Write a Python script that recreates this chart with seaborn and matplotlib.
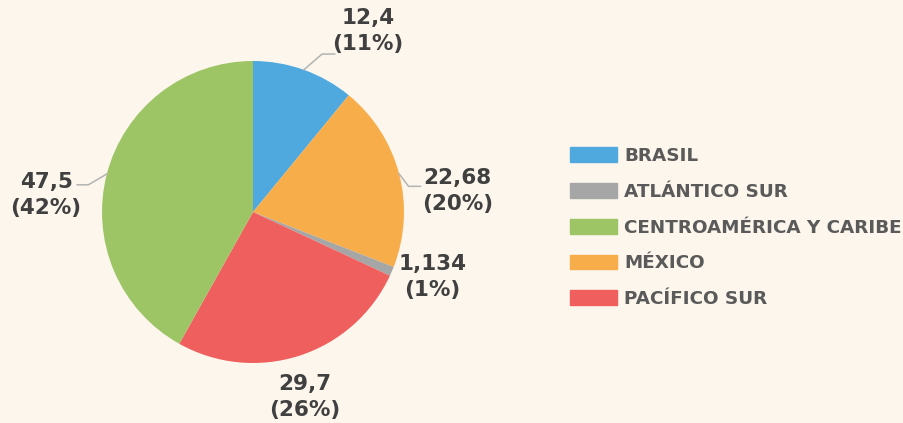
import matplotlib
matplotlib.use("Agg")
import matplotlib.pyplot as plt
import matplotlib.patches as mpatches
import numpy as np
import seaborn as sns

# legend order
regions = ["BRASIL", "ATLÁNTICO SUR", "CENTROAMÉRICA Y CARIBE", "MÉXICO", "PACÍFICO SUR"]
values = [12.4, 1.134, 47.5, 22.68, 29.7]
colors = ["#4FA9DF", "#A6A6A6", "#9DC566", "#F8AD4B", "#EE5F5E"]
# clockwise order of slices from 12 o'clock
pie_order = ["BRASIL", "MÉXICO", "ATLÁNTICO SUR", "PACÍFICO SUR", "CENTROAMÉRICA Y CARIBE"]

BG = "#FDF6EC"
TXT = "#404040"
LEG = "#5A5A5A"

sns.set_theme(style="white")
plt.rcParams["font.family"] = ["DejaVu Sans"]

fig = plt.figure(figsize=(9.04, 4.23), dpi=100, facecolor=BG)
ax = fig.add_axes([102 / 904, 60 / 423, 302 / 904, 302 / 423])
ax.set_facecolor(BG)

idx = [regions.index(r) for r in pie_order]
pv = [values[i] for i in idx]
pc = [colors[i] for i in idx]
total = sum(values)

wedges, _ = ax.pie(pv, colors=pc, startangle=90, counterclock=False, radius=1,
                   wedgeprops=dict(linewidth=0))
ax.set_xlim(-1, 1)
ax.set_ylim(-1, 1)
ax.axis("off")

# label centre (x, y) in pie units
label_pos = {
    "BRASIL": (0.76, 1.20),
    "MÉXICO": (1.355, 0.14),
    "ATLÁNTICO SUR": (1.19, -0.43),
    "PACÍFICO SUR": (0.34, -1.225),
    "CENTROAMÉRICA Y CARIBE": (-1.37, 0.11),
}
leaders = {
    "BRASIL": ((0.457, 1.046), (0.543, 1.046)),
    "MÉXICO": ((1.03, 0.17), (1.11, 0.17)),
    "CENTROAMÉRICA Y CARIBE": ((-1.09, 0.18), (-1.166, 0.18)),
}

for w, name, v in zip(wedges, pie_order, pv):
    mid = np.deg2rad((w.theta1 + w.theta2) / 2)
    txt = f"{str(v).replace('.', ',')}\n({v / total * 100:.0f}%)"
    x, y = label_pos[name]
    ax.text(x, y, txt, ha="center", va="center", fontsize=15.5, color=TXT,
            fontweight="semibold", linespacing=1.38, clip_on=False)
    if name in leaders:
        p1, p2 = leaders[name]
        ax.plot([np.cos(mid), p1[0], p2[0]], [np.sin(mid), p1[1], p2[1]],
                color="#B3B3B3", lw=1.1, clip_on=False)

handles = [mpatches.Patch(color=c, label=r) for r, c in zip(regions, colors)]
leg = fig.legend(handles=handles, loc="upper left", bbox_to_anchor=(570 / 904, 1 - 147 / 423),
                 frameon=False, fontsize=13.2, handlelength=2.57, handleheight=0.87,
                 handletextpad=0.38, labelspacing=0.97, borderpad=0, borderaxespad=0)
for t in leg.get_texts():
    t.set_color(LEG)
    t.set_fontweight("bold")

fig.savefig("out.png", dpi=100, facecolor=BG)
